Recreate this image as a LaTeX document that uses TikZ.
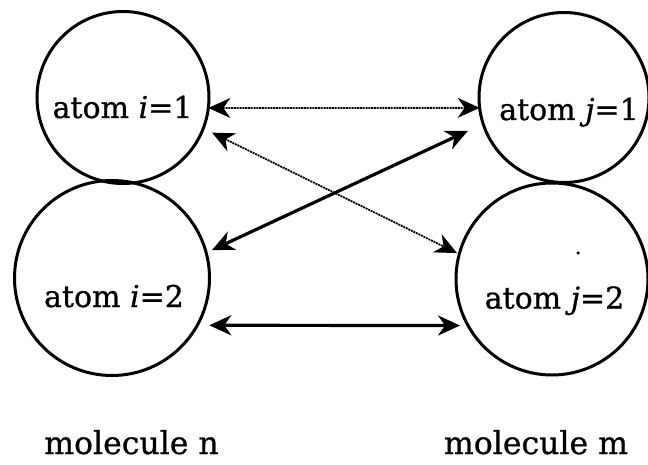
\documentclass[tikz,border=0pt]{standalone}
\usepackage{fontspec}
\setmainfont{DejaVu Serif}[FakeBold=0.8]
\usetikzlibrary{arrows.meta}
\begin{document}
\begin{tikzpicture}[x=1pt,y=1pt,
  atom/.style={circle, draw, line width=3pt, inner sep=0pt, outer sep=0pt},
  lbl/.style={anchor=base, inner sep=0pt, font=\fontsize{30}{32}\selectfont},
  mol/.style={anchor=base, inner sep=0pt, font=\fontsize{31.5}{34}\selectfont},
  barb/.tip={Stealth[length=22pt,width=20pt,inset=7pt]},
  solidarr/.style={line width=3.2pt, barb-barb},
  dotarr/.style={line width=1.8pt, dash pattern=on 2pt off 0.8pt, barb-barb}]
\useasboundingbox (0,0) rectangle (648,464);
% atoms
\node[atom, minimum size=172pt] (a1) at (123,366.5) {};
\node[atom, minimum size=170pt] (b1) at (564,366.5) {};
\node[atom, minimum size=195pt] (a2) at (112,186) {};
\node[atom, minimum size=192pt] (b2) at (552,185) {};
% labels
\node[lbl] (ta1) at (122.5,346) {atom \textit{i}=1};
\node[lbl] (tb1) at (569,344) {atom \textit{j}=1};
\node[lbl] (ta2) at (114,157) {atom \textit{i}=2};
\node[lbl] (tb2) at (554.5,155.5) {atom \textit{j}=2};
\node[mol] (mn) at (131.5,10) {molecule n};
\node[mol] (mm) at (536,10) {molecule m};
% stray dot
\node[circle, fill, inner sep=0pt, minimum size=3.5pt] (dot) at (578,211) {};
% interactions
\draw[dotarr] (a1.-7) -- (b1.187);
\draw[dotarr, shorten <=9.8pt, shorten >=2.5pt] (a1.-21) -- (b2.165);
\draw[solidarr, shorten <=6.4pt, shorten >=16.8pt] (a2.15) -- (b1.198);
\draw[solidarr, shorten <=12pt, shorten >=8pt] (a2.-29) -- (b2.209);
\end{tikzpicture}
\end{document}
